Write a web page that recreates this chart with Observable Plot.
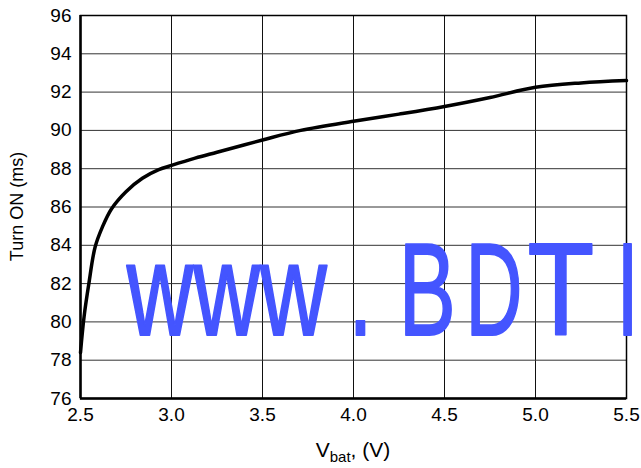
<!DOCTYPE html>
<html>
<head>
<meta charset="utf-8">
<script src="https://cdn.jsdelivr.net/npm/d3@7"></script>
<script src="https://cdn.jsdelivr.net/npm/@observablehq/plot@0.6"></script>
<style>
  html, body { margin: 0; padding: 0; background: #fff; }
  #chart { width: 641px; height: 468px; }
</style>
</head>
<body>
<div id="chart"></div>
<script>
// Data
const vbat = [2.50, 2.52, 2.546, 2.58, 2.62, 2.67, 2.75, 2.84, 2.93, 3.00, 3.13, 3.25, 3.50, 3.71, 4.00, 4.25, 4.50, 4.75, 5.00, 5.25, 5.50];
const turnOn = [78.4, 80.3, 82.0, 83.9, 84.95, 85.9, 86.8, 87.5, 87.95, 88.17, 88.55, 88.86, 89.5, 90.0, 90.48, 90.85, 91.25, 91.72, 92.25, 92.48, 92.6];
const xTicks = [2.5, 3.0, 3.5, 4.0, 4.5, 5.0, 5.5];
const yTicks = [76, 78, 80, 82, 84, 86, 88, 90, 92, 94, 96];
const yLabel = "Turn ON (ms)";
const watermark = "www.BDTI";

const rows = vbat.map((v, i) => ({v, t: turnOn[i]}));

const chart = Plot.plot({
  width: 641,
  height: 468,
  marginLeft: 80,
  marginRight: 15,
  marginTop: 15,
  marginBottom: 70,
  style: {fontFamily: "'Liberation Sans', Arial, sans-serif", fontSize: "19px", color: "#000", background: "#fff"},
  x: {domain: [2.5, 5.5]},
  y: {domain: [76, 96]},
  marks: [
    Plot.gridX(xTicks, {stroke: "#111", strokeOpacity: 1, strokeWidth: 1}),
    Plot.gridY(yTicks, {stroke: "#333", strokeOpacity: 1, strokeWidth: 1}),
    Plot.frame({stroke: "#000", strokeWidth: 1.5}),
    Plot.ruleX([2.5], {stroke: "#000", strokeWidth: 2.5}),
    Plot.ruleY([76], {stroke: "#000", strokeWidth: 2.5}),
    Plot.axisX(xTicks, {tickSize: 0, tickPadding: 9, tickFormat: d => d.toFixed(1), label: null, fontSize: 19}),
    Plot.axisY(yTicks, {tickSize: 0, tickPadding: 9, label: null, fontSize: 19}),
    Plot.line(rows, {x: "v", y: "t", stroke: "#000", strokeWidth: 3.5, curve: "catmull-rom"})
  ]
});

document.getElementById("chart").appendChild(chart);

const ns = "http://www.w3.org/2000/svg";
const xs = chart.scale("x"), ys = chart.scale("y");

// Y axis label
const yl = document.createElementNS(ns, "text");
yl.setAttribute("transform", `translate(23, ${(ys.apply(76) + ys.apply(96)) / 2}) rotate(-90)`);
yl.setAttribute("text-anchor", "middle");
yl.setAttribute("font-size", "18");
yl.setAttribute("fill", "#000");
yl.textContent = yLabel;
chart.appendChild(yl);

// X axis label with subscript
const xl = document.createElementNS(ns, "text");
xl.setAttribute("x", (xs.apply(2.5) + xs.apply(5.5)) / 2);
xl.setAttribute("y", 457);
xl.setAttribute("text-anchor", "middle");
xl.setAttribute("font-size", "21");
xl.setAttribute("fill", "#000");
const t1 = document.createElementNS(ns, "tspan"); t1.textContent = "V";
const t2 = document.createElementNS(ns, "tspan"); t2.textContent = "bat"; t2.setAttribute("font-size", "15"); t2.setAttribute("dy", "5");
const t3 = document.createElementNS(ns, "tspan"); t3.textContent = ", (V)"; t3.setAttribute("dy", "-5");
xl.append(t1, t2, t3);
chart.appendChild(xl);

// Watermark overlay (monospaced cells, condensed glyphs)
const wm = document.createElementNS(ns, "g");
wm.setAttribute("fill", "#4455ff");
wm.setAttribute("stroke", "#4455ff");
wm.setAttribute("stroke-width", "2");
wm.setAttribute("stroke-linejoin", "round");
wm.setAttribute("font-family", "'Liberation Sans', Arial, sans-serif");
wm.setAttribute("font-size", "132");
chart.appendChild(wm);
const cell = 66.8, start = 160;
const inkWidth = {w: 63, ".": 11, B: 53, D: 53, T: 62, I: 10};
[...watermark].forEach((ch, i) => {
  const t = document.createElementNS(ns, "text");
  t.setAttribute("text-anchor", "middle");
  t.textContent = ch;
  wm.appendChild(t);
  const bb = t.getBBox();
  const sx = Math.min(1, inkWidth[ch] / (bb.width * (ch === "." || ch === "I" ? 0.45 : 0.93)));
  t.setAttribute("transform", `translate(${start + i * cell}, 335) scale(${sx}, 1)`);
});
</script>
</body>
</html>
